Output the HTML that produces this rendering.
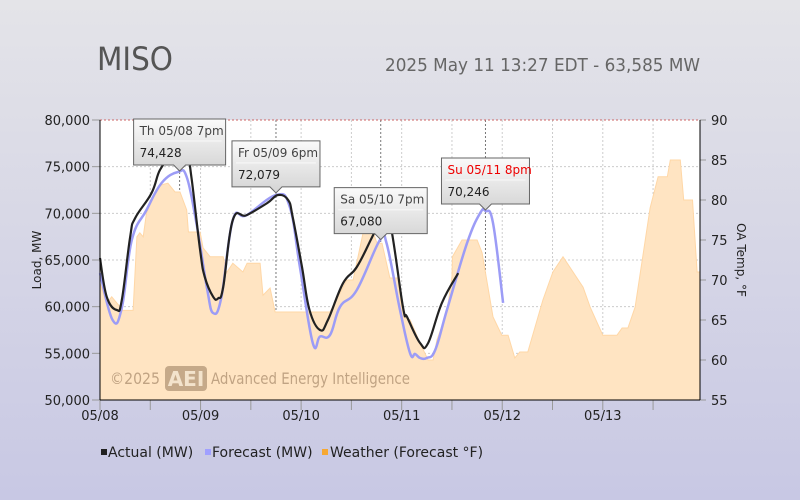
<!DOCTYPE html>
<html><head><meta charset="utf-8"><style>
html,body{margin:0;padding:0}
body{width:800px;height:500px;overflow:hidden;background:linear-gradient(#e4e4e8,#c8c8e4);font-family:"DejaVu Sans","Liberation Sans",sans-serif}
svg{display:block}
</style></head><body>
<svg id="chart" width="800" height="500" xmlns="http://www.w3.org/2000/svg" font-family="DejaVu Sans, Liberation Sans, sans-serif">
<defs>
<linearGradient id="bg" x1="0" y1="0" x2="0" y2="1"><stop offset="0" stop-color="#e4e4e8"/><stop offset="1" stop-color="#c8c8e4"/></linearGradient>
<linearGradient id="tip" x1="0" y1="0" x2="0" y2="1"><stop offset="0" stop-color="#fafafa"/><stop offset="1" stop-color="#d4d4d4"/></linearGradient>
</defs>
<rect width="800" height="500" fill="url(#bg)"/>
<text x="97" y="70" font-size="32" fill="#555" textLength="76" lengthAdjust="spacingAndGlyphs">MISO</text>
<text x="385" y="71" font-size="18" fill="#666" textLength="315" lengthAdjust="spacingAndGlyphs">2025 May 11 13:27 EDT - 63,585 MW</text>
<rect x="100" y="120" width="600" height="280" fill="#fff"/>
<g id="grid"></g>
<g id="temp"></g>
<text x="110" y="384" font-size="16" fill="rgba(140,110,80,0.55)" textLength="50" lengthAdjust="spacingAndGlyphs">©2025</text>
<rect x="165" y="366" width="42" height="25" rx="4" fill="rgba(140,110,80,0.5)"/>
<text x="186" y="386" font-size="20" font-weight="bold" fill="#f3e3cc" text-anchor="middle">AEI</text>
<text x="211" y="384" font-size="16" fill="rgba(140,110,80,0.55)" textLength="199" lengthAdjust="spacingAndGlyphs">Advanced Energy Intelligence</text>
<g id="lines"></g>
<g id="axes"></g>
<g id="tips"></g>
<g>
<rect x="101" y="449" width="6" height="6" fill="#222"/>
<text x="108" y="457" font-size="14" fill="#222">Actual (MW)</text>
<rect x="205" y="449" width="6" height="6" fill="#a0a0ff"/>
<text x="212" y="457" font-size="14" fill="#222">Forecast (MW)</text>
<rect x="322" y="449" width="6" height="6" fill="#f7a832"/>
<text x="330" y="457" font-size="14" fill="#222">Weather (Forecast °F)</text>
</g>
</svg>
<script>
const actualHours=[0,1.6,4,5.2,7.2,8.4,12.3,14.3,17,19,21,21.9,23.9,25,27,28.2,29.4,31.7,35,39.9,42.5,44.9,46,48.2,50,52.5,54.4,58,61.3,65,67.3,69.2,72.3,73.3,76.4,78.3,81.6,85.5];
const actualMW=[65200,61070,59640,60700,67500,69500,72170,74640,76070,76430,75710,73570,66070,63210,61070,60900,62100,69290,69800,71100,71960,71430,69600,64250,59640,57500,58570,62500,64250,67500,69500,69070,60000,58890,56100,56100,60400,63600];
const forecastHours=[0,3,5.2,7.6,11.1,14.7,18.6,20.7,23,25.5,27,29,31.7,35,42.1,45.3,47.7,50.8,52.5,54.9,57.3,61.3,66.8,68.4,71.6,74,75.2,76.4,78,80,82.8,87.6,90.7,92,93.8,96.2];
const forecastMW=[63600,58570,59860,67140,70360,73250,74430,73890,68960,62100,59320,61070,69290,69800,71960,70680,64250,56100,56800,56960,60000,61790,67140,66780,59640,55000,54930,54500,54500,55360,59640,66800,70000,70250,68960,60400];
const tempHours=[0,1.6,2.8,5.5,7.9,8.8,9.5,10.3,11.1,13.5,14.7,16.2,17.9,19.1,20.7,21.1,23.9,24.6,26.3,29.4,30.2,31.7,34.1,35.1,38.2,38.9,40.6,41.8,54.9,58.9,60.4,62.8,65.2,66.1,67.3,69.2,71.1,72.3,74,76.4,78.3,79.5,80.4,82.8,84,84.1,86.4,90,91.2,93.8,95.9,97.4,99,100.2,102.1,105.7,108.1,110.5,115.3,117,120,123.4,124.6,126,127.7,131.3,133.2,135.4,136.1,138.5,139.3,141.4,142.5,143.2];
const tempF=[69.6,67.1,67.9,66.2,66.2,75.4,75.9,75.4,78.4,81.25,81.9,82.1,81,81,78.75,76,76,74,72.9,72.9,70.9,72.1,71,72.1,72.1,68.1,69,66,66,70,70,75.9,75.9,74.6,74.6,70.25,70.25,65.4,65,62.1,60,60,62.5,66,70.4,72.9,75,75,73.4,65.4,63.1,63.1,60.25,61,61,67.5,71,72.9,69.1,66.6,63.1,63.1,64,64,66.6,79,82.9,82.9,85,85,80,80,71,71];
const leftTicks=[50000,55000,60000,65000,70000,75000,80000];
const rightTicks=[55,60,65,70,75,80,85,90];
const dayLabels=["05/08","05/09","05/10","05/11","05/12","05/13"];
const tipHours=[19,42,67,92];
const tipValues=[74428,72079,67080,70246];
const tipLabels=["Th 05/08 7pm","Fr 05/09 6pm","Sa 05/10 7pm","Su 05/11 8pm"];

const NS="http://www.w3.org/2000/svg";
const X0=100,X1=700,Y0=120,Y1=400,HMAX=143.2;
const xs=h=>X0+h*(X1-X0)/HMAX;
const yL=v=>Y1-(v-50000)*(Y1-Y0)/30000;
const yR=t=>Y1-(t-55)*(Y1-Y0)/35;
function mk(tag,attrs,parent){const e=document.createElementNS(NS,tag);for(const k in attrs)e.setAttribute(k,attrs[k]);parent.appendChild(e);return e;}
const grid=document.getElementById('grid'),axes=document.getElementById('axes'),lines=document.getElementById('lines'),tips=document.getElementById('tips'),temp=document.getElementById('temp');

leftTicks.forEach(v=>{
  const y=yL(v);
  if(v>50000&&v<80000){const g=mk('line',{x1:X0,x2:X1,y1:y,y2:y,stroke:'#ccc','stroke-dasharray':'2,2'},grid);
  
  }
  const tk=mk('line',{x1:X0-8,x2:X0,y1:y,y2:y,stroke:'#999'},axes);
  
  
  const t=mk('text',{x:X0-10,y:y+5,'font-size':13,'text-anchor':'end',fill:'#222'},axes);
  t.textContent=v.toLocaleString('en-US');
  
  
});
rightTicks.forEach(v=>{
  const y=yR(v);
  const tk=mk('line',{x1:X1,x2:X1+6,y1:y,y2:y,stroke:'#999'},axes);
  
  
  const t=mk('text',{x:X1+11,y:y+5,'font-size':13,fill:'#222'},axes);
  t.textContent=v;
  
  
});
for(let h=12;h<HMAX;h+=12){
  const x=xs(h);
  const g=mk('line',{x1:x,x2:x,y1:Y0,y2:Y1,stroke:'#ccc','stroke-dasharray':'2,2'},grid);
  
  
}
for(let h=0;h<HMAX;h+=12){
  const x=xs(h);
  const tk=mk('line',{x1:x,x2:x,y1:Y1,y2:Y1+10,stroke:'#999'},axes);
  
  
}
dayLabels.forEach((d,i)=>{
  const t=mk('text',{x:xs(i*24),y:420,'font-size':13,'text-anchor':'middle',fill:'#222'},axes);
  t.textContent=d;
  
  
});
let d='M'+xs(tempHours[0])+','+Y1;
tempHours.forEach((h,i)=>{d+=' L'+xs(h).toFixed(1)+','+yR(tempF[i]).toFixed(1);});
d+=' L'+xs(tempHours[tempHours.length-1])+','+Y1+' Z';
const ta=mk('path',{d:d,fill:'#ffe4c2',stroke:'#ffd7a6','stroke-width':1},temp);


const tb=mk('line',{x1:X0,x2:X1,y1:Y0,y2:Y0,stroke:'#c66','stroke-dasharray':'2,2'},axes);


const lb=mk('line',{x1:X0,x2:X0,y1:Y0,y2:Y1,stroke:'#000'},axes);


const rb=mk('line',{x1:X1,x2:X1,y1:Y0,y2:Y1,stroke:'#000'},axes);


const bb=mk('line',{x1:X0,x2:X1,y1:Y1,y2:Y1,stroke:'#000'},axes);


const yt=mk('text',{transform:'translate(41,260) rotate(-90)','font-size':12,'text-anchor':'middle',fill:'#222'},axes);
yt.textContent='Load, MW';


const yt2=mk('text',{transform:'translate(737,260) rotate(90)','font-size':12,'text-anchor':'middle',fill:'#222'},axes);
yt2.textContent='OA Temp, °F';


tipHours.forEach(h=>{
  const l=mk('line',{x1:xs(h),x2:xs(h),y1:Y0,y2:Y1,stroke:'#777','stroke-dasharray':'2,2'},grid);
  
  
});
function smooth(hs,vs){
  const p=hs.map((h,i)=>[xs(h),yL(vs[i])]);
  let s='M'+p[0][0].toFixed(1)+','+p[0][1].toFixed(1);
  for(let i=0;i<p.length-1;i++){
    const a=p[Math.max(0,i-1)],b=p[i],c=p[i+1],e=p[Math.min(p.length-1,i+2)];
    const t=0.2;
    const c1=[b[0]+(c[0]-a[0])*t,b[1]+(c[1]-a[1])*t];
    const c2=[c[0]-(e[0]-b[0])*t,c[1]-(e[1]-b[1])*t];
    s+=' C'+c1[0].toFixed(1)+','+c1[1].toFixed(1)+' '+c2[0].toFixed(1)+','+c2[1].toFixed(1)+' '+c[0].toFixed(1)+','+c[1].toFixed(1);
  }
  return s;
}
const fl=mk('path',{d:smooth(forecastHours,forecastMW),fill:'none',stroke:'#9c9cf6','stroke-width':2.5,'stroke-linejoin':'round'},lines);


const al=mk('path',{d:smooth(actualHours,actualMW),fill:'none',stroke:'#222','stroke-width':2.2,'stroke-linejoin':'round'},lines);


const tipW=[92,88,93,88];
tipHours.forEach((h,i)=>{
  const px=xs(h),py=yL(tipValues[i])-1;
  const w=tipW[i],bx=px-w/2,by=py-52;
  const g=mk('g',{},tips);
  
  
  mk('path',{d:`M${bx},${by} h${w} v46 h${-(w/2-6)} l-6,6 l-6,-6 h${-(w/2-6)} Z`,fill:'url(#tip)',stroke:'#666','stroke-width':1},g);
  mk('line',{x1:bx+4,x2:bx+w-4,y1:by+22,y2:by+22,stroke:'#f4f4f4','stroke-width':1.5},g);
  const t1=mk('text',{x:bx+6,y:by+16,'font-size':12,fill:i===3?'#e00':'#444'},g);
  t1.textContent=tipLabels[i];
  
  
  const t2=mk('text',{x:bx+6,y:by+38,'font-size':12,fill:'#222'},g);
  t2.textContent=tipValues[i].toLocaleString('en-US');
  
  
});
</script>
</body></html>
